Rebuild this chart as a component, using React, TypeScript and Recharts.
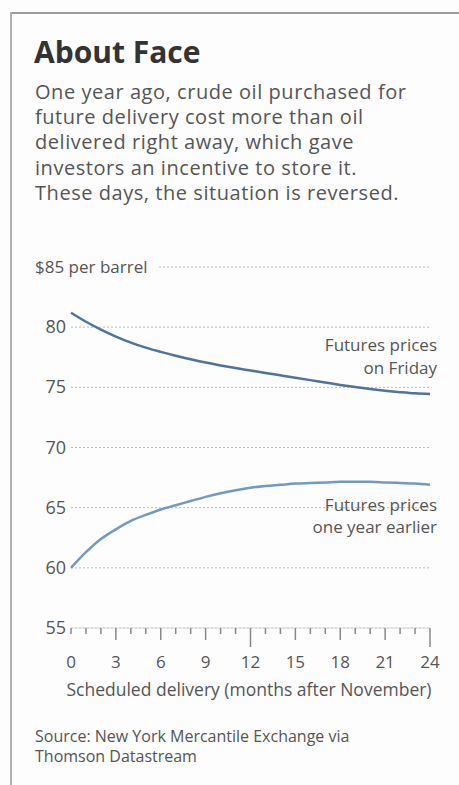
import React from "react";
import { LineChart, Line, XAxis, YAxis, CartesianGrid } from "recharts";

const months = [0, 1, 2, 3, 4, 5, 6, 7, 8, 9, 10, 11, 12, 13, 14, 15, 16, 17, 18, 19, 20, 21, 22, 23, 24];
const fridayPrices = [81.2, 80.45, 79.8, 79.22, 78.72, 78.3, 77.95, 77.63, 77.33, 77.06, 76.82, 76.6, 76.4, 76.2, 76.0, 75.8, 75.6, 75.4, 75.2, 75.02, 74.86, 74.72, 74.6, 74.5, 74.45];
const yearEarlierPrices = [60.0, 61.3, 62.4, 63.2, 63.9, 64.4, 64.85, 65.2, 65.55, 65.9, 66.2, 66.45, 66.65, 66.8, 66.9, 67.0, 67.05, 67.1, 67.15, 67.15, 67.15, 67.1, 67.05, 67.0, 66.9];
const yTicks = [55, 60, 65, 70, 75, 80, 85];
const xLabelTicks = [0, 3, 6, 9, 12, 15, 18, 21, 24];
const fridayLabel = ["Futures prices", "on Friday"];
const earlierLabel = ["Futures prices", "one year earlier"];

const title = "About Face";
const subtitleLines = [
  "One year ago, crude oil purchased for",
  "future delivery cost more than oil",
  "delivered right away, which gave",
  "investors an incentive to store it.",
  "These days, the situation is reversed.",
];
const xAxisTitle = "Scheduled delivery (months after November)";
const sourceLines = ["Source: New York Mercantile Exchange via", "Thomson Datastream"];

const data = months.map((m, i) => ({ m, friday: fridayPrices[i], earlier: yearEarlierPrices[i] }));

const FONT = "'Open Sans', 'Noto Sans', sans-serif";
const TEXT = "#555";

const YTick = (props: any) => {
  const { x, y, payload } = props;
  if (payload.value === 85) {
    return (
      <g>
        <rect x={x - 37} y={y - 12} width={124} height={24} fill="#fdfdfd" />
        <text x={x - 36} y={y} dy={6} textAnchor="start" fontSize={17} fill={TEXT} fontFamily={FONT}>
          $85 per barrel
        </text>
      </g>
    );
  }
  return (
    <text x={x - 5} y={y} dy={6} textAnchor="end" fontSize={18} fill={TEXT} fontFamily={FONT}>
      {payload.value}
    </text>
  );
};

const XTick = (props: any) => {
  const { x, y, payload } = props;
  const v = payload.value as number;
  const len = v % 12 === 0 && v !== 0 ? 19 : v % 3 === 0 && v !== 0 ? 12 : 6;
  const showLabel = xLabelTicks.includes(v);
  return (
    <g>
      <line x1={x} y1={y} x2={x} y2={y + len} stroke="#888" strokeWidth={1.5} />
      {showLabel && (
        <text x={x} y={y + 40} textAnchor="middle" fontSize={17} fill={TEXT} fontFamily={FONT}>
          {v}
        </text>
      )}
    </g>
  );
};

const makeEndLabel = (lines: string[], dys: number[]) => (props: any) => {
  const { x, y, index } = props;
  if (index !== months.length - 1) return null;
  return (
    <g>
      {lines.map((t, i) => (
        <text key={i} x={x + 7} y={y + dys[i]} textAnchor="end" fontSize={17} fill={TEXT} fontFamily={FONT}>
          {t}
        </text>
      ))}
    </g>
  );
};

export default function App() {
  return (
    <div
      style={{
        position: "absolute",
        top: 0,
        left: 0,
        width: 459,
        height: 785,
        background: "#fdfdfd",
        fontFamily: FONT,
        overflow: "hidden",
      }}
    >
      <div style={{ position: "absolute", left: 10, top: 12, width: 449, height: 2, background: "#9a9a9a" }} />
      <div style={{ position: "absolute", left: 10, top: 12, width: 2, height: 773, background: "#b0b0b0" }} />
      <div
        style={{
          position: "absolute",
          left: 34,
          top: 32,
          fontSize: 30,
          fontWeight: 700,
          color: "#333",
          lineHeight: "40px",
          whiteSpace: "nowrap",
        }}
      >
        {title}
      </div>
      <div
        style={{
          position: "absolute",
          left: 35,
          top: 79,
          fontSize: 20,
          letterSpacing: 0.55,
          color: TEXT,
          lineHeight: "25.2px",
          whiteSpace: "nowrap",
        }}
      >
        {subtitleLines.map((l, i) => (
          <div key={i}>{l}</div>
        ))}
      </div>
      <div style={{ position: "absolute", left: 0, top: 0 }}>
        <LineChart
          width={459}
          height={785}
          data={data}
          margin={{ top: 267, right: 29, bottom: 97, left: 35 }}
        >
          <CartesianGrid vertical={false} stroke="#bbb" strokeDasharray="2 2" />
          <XAxis
            dataKey="m"
            type="number"
            domain={[0, 24]}
            ticks={months}
            interval={0}
            tickSize={0}
            tickMargin={0}
            tickLine={false}
            axisLine={{ stroke: "#ddd" }}
            height={60}
            tick={<XTick />}
          />
          <YAxis
            domain={[55, 85]}
            ticks={yTicks}
            interval={0}
            width={36}
            tickSize={0}
            tickMargin={0}
            tickLine={false}
            axisLine={false}
            tick={<YTick />}
          />
          <Line
            dataKey="friday"
            type="monotone"
            stroke="#4f7399"
            strokeWidth={2.5}
            dot={false}
            isAnimationActive={false}
            label={makeEndLabel(fridayLabel, [-43, -20])}
          />
          <Line
            dataKey="earlier"
            type="monotone"
            stroke="#7399c3"
            strokeWidth={2.5}
            dot={false}
            isAnimationActive={false}
            label={makeEndLabel(earlierLabel, [26, 48])}
          />
        </LineChart>
      </div>
      <div
        style={{
          position: "absolute",
          left: 60,
          top: 678,
          width: 378,
          textAlign: "center",
          fontSize: 17.5,
          color: TEXT,
          whiteSpace: "nowrap",
          lineHeight: "22px",
        }}
      >
        {xAxisTitle}
      </div>
      <div
        style={{
          position: "absolute",
          left: 35,
          top: 726,
          fontSize: 16,
          color: TEXT,
          lineHeight: "20px",
          whiteSpace: "nowrap",
        }}
      >
        {sourceLines.map((l, i) => (
          <div key={i}>{l}</div>
        ))}
      </div>
    </div>
  );
}
